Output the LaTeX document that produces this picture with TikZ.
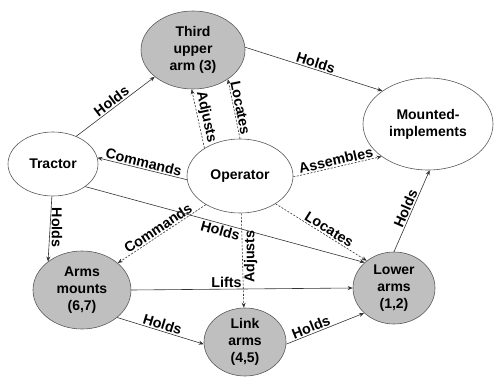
\documentclass[tikz,border=0pt]{standalone}
\usepackage{fontspec}
\setmainfont{Liberation Sans}
\usetikzlibrary{shapes.geometric,arrows.meta}
\begin{document}
\begin{tikzpicture}[x=1pt,y=1pt,
  part/.style={ellipse, draw=black!65, line width=0.6pt, inner sep=0pt, align=center,
    font=\bfseries\fontsize{14}{17}\selectfont},
  gray part/.style={part, fill=black!25},
  white part/.style={part, fill=white},
  rel/.style={draw=black!80, line width=0.6pt, -{Stealth[length=5pt,width=4pt]}},
  soft rel/.style={rel, dash pattern=on 2pt off 1.5pt},
  lbl/.style={font=\bfseries\fontsize{14.3}{16}\selectfont, inner sep=1.3pt},
]
\useasboundingbox (0,0) rectangle (494,378);

% parts and actors
\node[gray part, minimum width=104pt, minimum height=78pt] (third) at (193,328) {Third\\upper\\arm (3)};
\node[white part, minimum width=90pt, minimum height=64pt] (tractor) at (53,214) {Tractor};
\node[white part, minimum width=106pt, minimum height=74pt] (operator) at (240,202) {Operator};
\node[white part, minimum width=130pt, minimum height=92pt] (mounted) at (428,254) {Mounted-\\implements};
\node[gray part, minimum width=98pt, minimum height=78pt] (arms) at (82,88) {Arms\\mounts\\(6,7)};
\node[gray part, minimum width=82pt, minimum height=68pt] (linkarms) at (245,36) {Link\\arms\\(4,5)};
\node[gray part, minimum width=82pt, minimum height=72pt] (lower) at (394,90) {Lower\\arms\\(1,2)};

% relations
\draw[rel] (tractor.50) -- node[lbl,sloped,above]{Holds} (third.215);
\draw[rel] (third.3) -- node[lbl,sloped,above]{Holds} (mounted.144);
\draw[rel] (operator.184) -- node[lbl,sloped,above]{Commands} (tractor.8);
\draw[soft rel] (operator.142) -- node[lbl,sloped,above]{Adjusts} (third.268);
\draw[soft rel] (operator.90) -- node[lbl,sloped,above]{Locates} (third.320);
\draw[soft rel] (operator.-1) -- node[lbl,sloped,above]{Assembles} (mounted.215);
\draw[soft rel] (operator.220) -- node[lbl,sloped,above]{Commands} (arms.37);
\draw[rel] (tractor.325) -- node[lbl,sloped,below,pos=.49]{Holds} (lower.139);
\draw[soft rel] (operator.322) -- node[lbl,sloped,above,pos=.55]{Locates} (lower.135);
\draw[soft rel] (operator.272) -- node[lbl,rotate=90,anchor=north,pos=.46]{Adjusts} (linkarms.92);
\draw[rel] (arms.0) -- node[lbl,above,pos=.43]{Lifts} (lower.180);
\draw[rel] (arms.322) -- node[lbl,sloped,above]{Holds} (linkarms.183);
\draw[rel] (linkarms.357) -- node[lbl,sloped,above,pos=.35]{Holds} (lower.220);
\draw[rel] (lower.90) -- node[lbl,sloped,above]{Holds} (mounted.272);
\draw[rel] (tractor.268) -- node[lbl,rotate=-90,anchor=south,pos=.48]{Holds} (arms.140);
\end{tikzpicture}
\end{document}
